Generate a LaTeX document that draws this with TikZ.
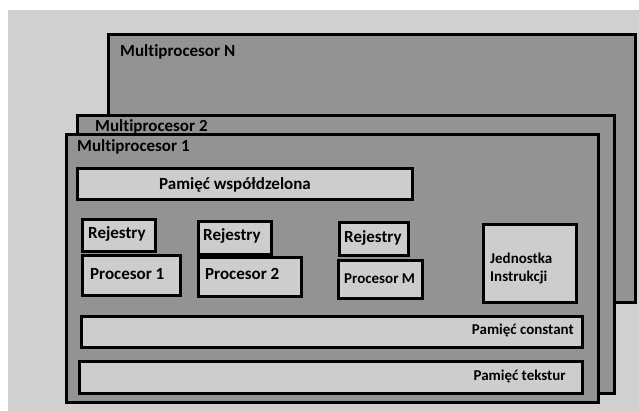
\documentclass[tikz,border=0pt]{standalone}
\usepackage{fontspec}
\setmainfont{Carlito}[Ligatures={NoCommon}]
\definecolor{bgc}{RGB}{208,208,208}
\definecolor{darkc}{RGB}{147,147,147}
\definecolor{lightc}{RGB}{205,205,205}
\begin{document}
\begin{tikzpicture}[x=1pt,y=-1pt,
  mp/.style={draw=black,line width=3pt,fill=darkc},
  ib/.style={draw=black,line width=3pt,fill=lightc},
  big/.style={font=\fontsize{17}{19}\selectfont\bfseries,inner sep=0pt},
  small/.style={font=\fontsize{15}{18}\selectfont\bfseries,inner sep=0pt}]
\useasboundingbox (0,0) rectangle (639,411);
\fill[white] (0,0) rectangle (639,411);
\fill[bgc] (8,10) rectangle (639,411);
% outer multiprocessors
\draw[mp] (108,35) rectangle (635,302);
\draw[mp] (77,116) rectangle (614,393);
\draw[mp] (66,135) rectangle (598,402);
\node[big,anchor=west] (mn) at (120,52) {Multiprocesor N};
\node[big,anchor=west] (m2) at (95,127) {Multiprocesor 2};
\node[big,anchor=west] (m1) at (77,147) {Multiprocesor 1};
% inner boxes
\draw[ib] (77,169) rectangle (412,200);
\node[big] (ws) at (235,185) {Pamięć współdzelona};
\draw[ib] (82,220) rectangle (155,252);
\node[big,anchor=west] (r1) at (88,234) {Rejestry};
\draw[ib] (82,256) rectangle (180,295);
\node[big,anchor=west] (p1) at (90,274) {Procesor 1};
\draw[ib] (198,222) rectangle (271,255);
\node[big,anchor=west] (r2) at (203,236) {Rejestry};
\draw[ib] (198,258) rectangle (301,296);
\node[big,anchor=west] (p2) at (205,274) {Procesor 2};
\draw[ib] (339,223) rectangle (408,256);
\node[big,anchor=west] (rm) at (344,238) {Rejestry};
\draw[ib] (338,261) rectangle (422,298);
\node[small,anchor=west] (pm) at (344,279) {Procesor M};
\draw[ib] (483,225) rectangle (576,302);
\node[small,anchor=west,align=left] (ji) at (490,269) {Jednostka\\Instrukcji};
\draw[ib] (81,316) rectangle (582,347);
\node[small,anchor=east] (pc) at (574,330) {Pamięć constant};
\draw[ib] (79,361) rectangle (582,393);
\node[small,anchor=east] (pt) at (566,376) {Pamięć tekstur};
\end{tikzpicture}
\end{document}
